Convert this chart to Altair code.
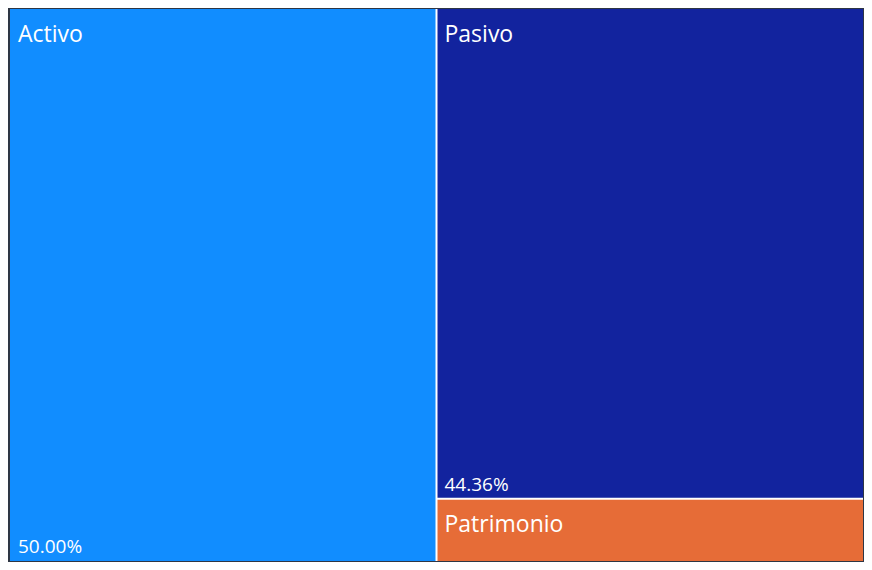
import altair as alt
import pandas as pd

categories = ["Activo", "Pasivo", "Patrimonio"]
values = [50.00, 44.36, 5.64]
colors = ["#118DFF", "#12239E", "#E66C37"]

# simple treemap layout: first item takes a left column, the rest stack on the right
total = sum(values)
left_w = values[0] / total * 100
rows = [dict(cat=categories[0], v=values[0], x0=0, x1=left_w, y0=0, y1=100)]
rest = sum(values[1:])
yc = 0.0
for c, v in zip(categories[1:], values[1:]):
    h = v / rest * 100
    rows.append(dict(cat=c, v=v, x0=left_w, x1=100, y0=yc, y1=yc + h))
    yc += h
df = pd.DataFrame(rows)
df["pct"] = df["v"].map(lambda v: f"{v:.2f}%")
df["showpct"] = df["v"] >= 10

# separator lines between tiles
seps = pd.DataFrame([
    dict(x0=left_w, x1=left_w, y0=0, y1=100),
    dict(x0=left_w, x1=100, y0=rows[1]["y1"], y1=rows[1]["y1"]),
])

xs = alt.Scale(domain=[0, 100], nice=False, zero=False)
ys = alt.Scale(domain=[0, 100], nice=False, zero=False, reverse=True)

base = alt.Chart(df)
rects = base.mark_rect().encode(
    x=alt.X("x0:Q", scale=xs, axis=None),
    x2="x1:Q",
    y=alt.Y("y0:Q", scale=ys, axis=None),
    y2="y1:Q",
    color=alt.Color("cat:N", scale=alt.Scale(domain=categories, range=colors), legend=None),
)
lines = alt.Chart(seps).mark_rule(color="white", strokeWidth=2).encode(
    x=alt.X("x0:Q", scale=xs, axis=None),
    x2="x1:Q",
    y=alt.Y("y0:Q", scale=ys, axis=None),
    y2="y1:Q",
)
labels = base.mark_text(
    align="left", baseline="alphabetic", dx=8, dy=33, font="Open Sans",
    fontSize=23, color="white",
).encode(
    x=alt.X("x0:Q", scale=xs, axis=None),
    y=alt.Y("y0:Q", scale=ys, axis=None),
    text="cat:N",
)
pcts = base.transform_filter("datum.showpct").mark_text(
    align="left", baseline="alphabetic", dx=8, dy=-8, font="Open Sans",
    fontSize=19, color="white",
).encode(
    x=alt.X("x0:Q", scale=xs, axis=None),
    y=alt.Y("y1:Q", scale=ys, axis=None),
    text="pct:N",
)

chart = (rects + lines + labels + pcts).properties(
    width=856, height=554,
    autosize=alt.AutoSizeParams(type="fit", contains="padding"),
    padding={"left": 2, "top": 0, "right": 0, "bottom": 0},
    background="#2e3644",
).configure_view(stroke=None)

chart.save("out.html", embed_options={"renderer": "svg", "actions": False})
